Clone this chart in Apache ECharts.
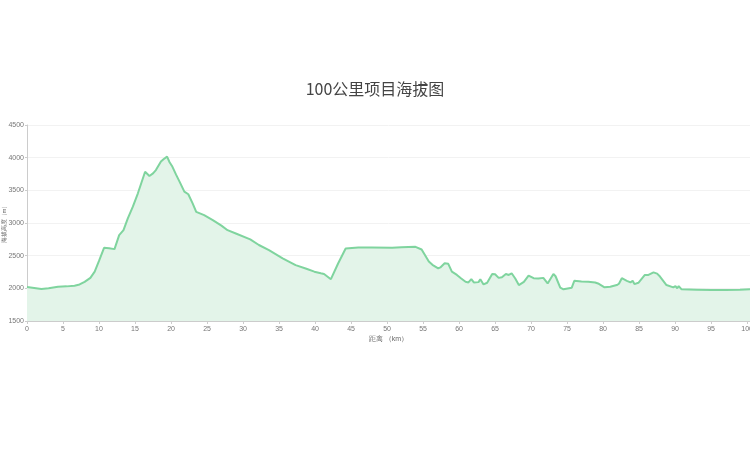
<!DOCTYPE html>
<html>
<head>
<meta charset="utf-8">
<script src="https://cdn.jsdelivr.net/npm/echarts@6/dist/echarts.min.js"></script>
<style>
html, body { margin: 0; padding: 0; background: #fff; }
#main { width: 750px; height: 468px; }
</style>
</head>
<body>
<div id="main"></div>
<script>
// 距离 (km)
var distance = [0, 1, 2, 3, 4.3, 5.5, 6.6, 7.3, 8.0, 8.8, 9.4, 10.0, 10.7, 11.4, 12.15, 12.8, 13.4, 14.0, 14.7, 15.4, 15.9, 16.4, 17.0, 17.5, 17.9, 18.6, 19.0, 19.45, 19.8, 20.2, 20.7, 21.2, 21.85, 22.4, 23.0, 23.5, 24.6, 25.8, 27.0, 27.85, 29.0, 31.0, 32.2, 33.6, 35.5, 37.3, 38.8, 39.9, 40.8, 41.0, 41.25, 41.5, 42.2, 43.2, 44.25, 46.0, 47.9, 50.7, 52.0, 53.95, 54.8, 55.8, 56.3, 57.1, 57.4, 58.0, 58.5, 59.0, 59.7, 60.3, 60.9, 61.3, 61.7, 62.05, 62.7, 62.95, 63.4, 63.9, 64.6, 65.0, 65.5, 65.95, 66.5, 66.9, 67.3, 67.8, 68.3, 69.0, 69.65, 70.35, 71.0, 71.7, 72.3, 73.1, 73.4, 74.05, 74.5, 75.65, 76.0, 77.0, 77.95, 78.9, 79.3, 80.2, 81.0, 81.9, 82.2, 82.6, 83.3, 83.8, 84.1, 84.35, 84.9, 85.8, 86.3, 87.0, 87.5, 87.9, 88.8, 89.75, 90.05, 90.3, 90.5, 90.9, 93.0, 95.05, 97.0, 99.0, 100.4];
// 海拔高度 (m)
var elevation = [2020, 2005, 1990, 2000, 2025, 2030, 2040, 2060, 2100, 2160, 2255, 2420, 2620, 2615, 2600, 2815, 2890, 3070, 3250, 3455, 3620, 3785, 3720, 3760, 3810, 3940, 3980, 4015, 3930, 3860, 3740, 3630, 3480, 3440, 3300, 3170, 3120, 3045, 2960, 2890, 2840, 2750, 2663, 2585, 2460, 2355, 2300, 2255, 2230, 2210, 2220, 2195, 2140, 2380, 2610, 2625, 2625, 2620, 2630, 2635, 2595, 2410, 2360, 2305, 2320, 2385, 2375, 2255, 2205, 2150, 2100, 2090, 2140, 2090, 2095, 2140, 2060, 2085, 2220, 2215, 2160, 2170, 2220, 2205, 2230, 2150, 2050, 2100, 2195, 2155, 2150, 2160, 2075, 2220, 2185, 2010, 1985, 2010, 2115, 2105, 2100, 2090, 2075, 2015, 2025, 2050, 2070, 2155, 2115, 2090, 2115, 2065, 2085, 2205, 2205, 2245, 2225, 2180, 2050, 2015, 2035, 2000, 2035, 1985, 1980, 1975, 1975, 1980, 1985];
var yTicks = { min: 1500, max: 4500, step: 500 };

var myChart = echarts.init(document.getElementById('main'));
var points = distance.map(function (d, i) { return [d, elevation[i]]; });

var option = {
	title: {
		text: '100公里项目海拔图',
		left: 'center',
		top: 76,
		textStyle: {
			fontSize: 16,
			fontWeight: 'normal',
			color: '#444',
			fontFamily: 'Noto Sans CJK SC'
		}
	},
	grid: {
		left: 27,
		right: 0,
		top: 125,
		bottom: 147,
		containLabel: false,
		outerBoundsMode: 'none'
	},
	xAxis: {
		type: 'value',
		min: 0,
		max: distance[distance.length - 1],
		interval: 5,
		name: '距离 （km）',
		nameLocation: 'middle',
		nameGap: 15,
		nameMoveOverlap: false,
		nameTextStyle: { fontSize: 7, color: '#666' },
		axisLine: { lineStyle: { color: '#ccc' } },
		axisTick: { length: 3, lineStyle: { color: '#ccc' } },
		axisLabel: {
			fontSize: 7,
			color: '#777',
			margin: 5,
			formatter: function (v) { return v === 100 ? '' : String(v); } // 100 与终点 100.4 重叠
		},
		splitLine: { show: false }
	},
	yAxis: {
		type: 'value',
		min: yTicks.min,
		max: yTicks.max,
		interval: yTicks.step,
		name: '海拔高度（m）',
		nameLocation: 'middle',
		nameGap: 20,
		nameMoveOverlap: false,
		nameTextStyle: { fontSize: 6, color: '#666' },
		axisLine: { show: true, lineStyle: { color: '#ccc' } },
		axisTick: { show: true, length: 2, lineStyle: { color: '#ccc' } },
		axisLabel: {
			fontSize: 7,
			color: '#777',
			margin: 3,
			formatter: function (v) { return String(v); }
		},
		splitLine: { lineStyle: { color: '#f2f2f2' } }
	},
	series: [
		{
			name: '海拔',
			type: 'line',
			data: points,
			showSymbol: false,
			smooth: false,
			lineStyle: { color: '#7fd49e', width: 2 },
			itemStyle: { color: '#7fd49e' },
			areaStyle: { color: '#e3f4e9', opacity: 1 }
		}
	]
};
myChart.setOption(option);
</script>
</body>
</html>
